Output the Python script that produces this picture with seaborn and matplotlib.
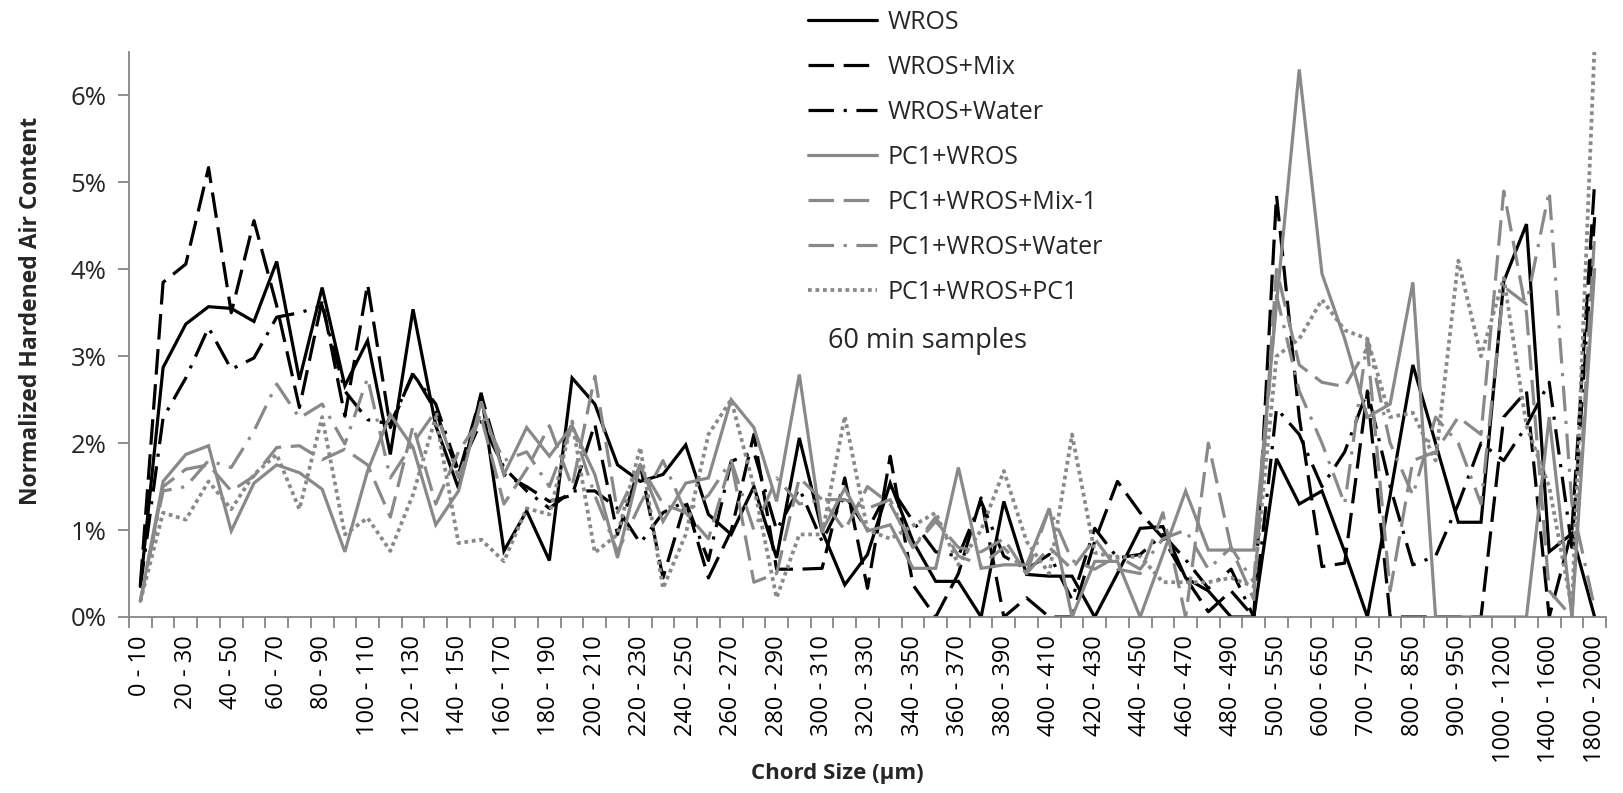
import numpy as np
import pandas as pd
import matplotlib
matplotlib.use("Agg")
import matplotlib.pyplot as plt
import seaborn as sns
from matplotlib.ticker import PercentFormatter

# ---------------- data ----------------
categories = [
    "0 - 10", "10 - 20", "20 - 30", "30 - 40", "40 - 50", "50 - 60", "60 - 70", "70 - 80",
    "80 - 90", "90 - 100", "100 - 110", "110 - 120", "120 - 130", "130 - 140", "140 - 150",
    "150 - 160", "160 - 170", "170 - 180", "180 - 190", "190 - 200", "200 - 210", "210 - 220",
    "220 - 230", "230 - 240", "240 - 250", "250 - 260", "260 - 270", "270 - 280", "280 - 290",
    "290 - 300", "300 - 310", "310 - 320", "320 - 330", "330 - 340", "340 - 350", "350 - 360",
    "360 - 370", "370 - 380", "380 - 390", "390 - 400", "400 - 410", "410 - 420", "420 - 430",
    "430 - 440", "440 - 450", "450 - 460", "460 - 470", "470 - 480", "480 - 490", "490 - 500",
    "500 - 550", "550 - 600", "600 - 650", "650 - 700", "700 - 750", "750 - 800", "800 - 850",
    "850 - 900", "900 - 950", "950 - 1000", "1000 - 1200", "1200 - 1400", "1400 - 1600",
    "1600 - 1800", "1800 - 2000",
]

series_names = ["WROS", "WROS+Mix", "WROS+Water", "PC1+WROS",
                "PC1+WROS+Mix-1", "PC1+WROS+Water", "PC1+WROS+PC1"]

wros = [0.35, 2.87, 3.37, 3.57, 3.55, 3.40, 4.09, 2.73, 3.79, 2.66,
        3.18, 1.87, 3.54, 2.20, 1.48, 2.58, 0.76, 1.22, 0.65, 2.75,
        2.45, 1.75, 1.56, 1.64, 1.98, 1.18, 0.95, 1.50, 0.68, 2.06,
        0.99, 0.37, 0.72, 1.54, 0.87, 0.41, 0.41, 0.00, 1.33, 0.49,
        0.47, 0.47, 0.00, 0.50, 1.02, 1.04, 0.45, 0.30, 0.00, 0.00,
        1.82, 1.30, 1.45, 0.75, 0.00, 1.40, 2.90, 2.00, 1.09, 1.09,
        3.86, 4.52, 0.75, 0.96, 0.00]

wros_mix = [0.37, 3.85, 4.06, 5.17, 3.50, 4.56, 3.58, 2.41, 3.64, 2.31,
            3.83, 2.18, 2.81, 2.37, 1.64, 2.56, 1.64, 1.50, 1.33, 1.40,
            2.22, 0.95, 1.75, 0.45, 1.33, 0.45, 0.99, 2.10, 0.55, 0.55,
            0.56, 1.60, 0.33, 1.85, 0.37, 0.00, 0.50, 1.37, 0.00, 0.22,
            0.00, 0.00, 0.87, 1.56, 1.20, 0.91, 0.45, 0.06, 0.30, 0.00,
            4.85, 2.30, 0.58, 0.62, 2.60, 0.00, 0.00, 0.00, 0.00, 0.00,
            2.30, 2.60, 0.00, 1.00, 5.00]

wros_water = [0.35, 2.29, 2.75, 3.33, 2.85, 2.98, 3.45, 3.50, 3.58, 2.60,
              2.27, 2.22, 2.79, 2.45, 1.68, 2.25, 1.72, 1.45, 1.25, 1.45,
              1.45, 1.25, 0.85, 1.20, 1.33, 0.65, 1.79, 1.90, 1.00, 1.48,
              0.87, 1.40, 1.00, 1.50, 1.10, 0.75, 0.70, 1.33, 0.70, 0.55,
              0.72, 0.20, 1.02, 0.68, 0.72, 0.95, 0.66, 0.33, 0.55, 0.00,
              2.40, 2.10, 1.50, 1.90, 2.60, 1.50, 0.60, 0.70, 1.30, 2.00,
              1.80, 2.20, 2.70, 0.80, 4.60]

pc1_wros = [0.18, 1.56, 1.87, 1.97, 0.99, 1.54, 1.75, 1.66, 1.47, 0.75,
            1.68, 2.33, 1.95, 1.06, 1.45, 2.48, 1.64, 2.18, 1.85, 2.20,
            1.64, 0.68, 1.75, 1.10, 1.54, 1.60, 2.50, 2.18, 1.33, 2.79,
            0.99, 1.48, 0.99, 1.06, 0.56, 0.56, 1.72, 0.56, 0.60, 0.60,
            1.25, 0.00, 0.64, 0.64, 0.00, 0.72, 1.45, 0.77, 0.77, 0.77,
            3.60, 6.30, 3.95, 3.20, 2.30, 2.45, 3.85, 0.00, 0.00, 0.00,
            0.00, 0.00, 2.30, 0.00, 4.00]

pc1_mix1 = [0.18, 1.50, 1.70, 1.75, 1.45, 1.62, 1.95, 1.97, 1.81, 1.93,
            1.75, 1.15, 2.20, 1.30, 1.90, 2.30, 1.30, 1.70, 2.20, 1.50,
            2.77, 1.20, 1.75, 1.30, 1.20, 0.90, 1.80, 0.40, 0.50, 1.60,
            1.35, 1.00, 1.50, 1.30, 0.80, 1.10, 0.80, 0.75, 0.90, 0.50,
            0.80, 0.55, 0.90, 0.55, 0.50, 1.20, 0.00, 2.00, 0.80, 0.20,
            4.00, 2.90, 2.70, 2.65, 3.10, 0.30, 1.80, 1.90, 2.30, 2.10,
            4.90, 3.50, 0.30, 0.00, 4.40]

pc1_water = [0.18, 1.45, 1.50, 1.80, 1.72, 2.14, 2.68, 2.29, 2.45, 1.99,
             2.75, 1.60, 2.00, 2.37, 1.60, 2.35, 1.80, 1.90, 1.50, 2.20,
             1.40, 0.75, 1.30, 1.80, 1.20, 1.40, 1.80, 1.00, 1.60, 1.30,
             1.35, 1.35, 1.25, 1.35, 0.80, 1.15, 0.70, 0.60, 0.80, 0.50,
             1.25, 0.65, 0.55, 0.70, 0.55, 0.90, 1.00, 0.55, 0.80, 0.40,
             3.70, 2.60, 2.00, 1.30, 3.20, 2.00, 1.40, 2.30, 2.00, 1.30,
             3.80, 3.60, 4.90, 1.30, 0.10]

pc1_pc1 = [0.18, 1.20, 1.12, 1.56, 1.24, 1.64, 1.87, 1.24, 2.30, 0.95,
           1.14, 0.76, 1.41, 2.30, 0.85, 0.89, 0.64, 1.25, 1.18, 2.25,
           0.74, 0.95, 1.95, 0.33, 0.95, 2.10, 2.50, 1.50, 0.22, 0.95,
           0.95, 2.31, 1.00, 0.90, 1.05, 1.20, 0.60, 1.00, 1.68, 0.87,
           0.50, 2.10, 0.74, 0.68, 0.70, 0.40, 0.40, 0.40, 0.45, 0.35,
           3.00, 3.20, 3.65, 3.30, 3.20, 2.30, 2.35, 1.80, 4.10, 3.00,
           3.90, 2.20, 1.50, 0.10, 6.60]

y_ticks = [0, 1, 2, 3, 4, 5, 6]

# ---------------- styles ----------------
BLACK = "#000000"
GRAY = "#898989"
palette = {"WROS": BLACK, "WROS+Mix": BLACK, "WROS+Water": BLACK,
           "PC1+WROS": GRAY, "PC1+WROS+Mix-1": GRAY, "PC1+WROS+Water": GRAY,
           "PC1+WROS+PC1": GRAY}
dashes = {"WROS": "", "WROS+Mix": (8, 3), "WROS+Water": (8, 3, 1, 3),
          "PC1+WROS": "", "PC1+WROS+Mix-1": (8, 3), "PC1+WROS+Water": (8, 3, 1, 3),
          "PC1+WROS+PC1": (1, 1)}

values = [wros, wros_mix, wros_water, pc1_wros, pc1_mix1, pc1_water, pc1_pc1]
frames = []
for name, vals in zip(series_names, values):
    frames.append(pd.DataFrame({"idx": np.arange(len(categories)),
                                "val": vals, "series": name}))
df = pd.concat(frames, ignore_index=True)

sns.set_theme(style="ticks")
plt.rcParams["font.family"] = ["Open Sans", "DejaVu Sans"]

W, H = 1624, 793
fig = plt.figure(figsize=(W / 100, H / 100), dpi=100)
L, R, T, B = 129, 1606, 52, 617
ax = fig.add_axes([L / W, 1 - B / H, (R - L) / W, (B - T) / H])

sns.lineplot(data=df, x="idx", y="val", hue="series", style="series",
             hue_order=series_names, style_order=series_names,
             palette=palette, dashes=dashes, linewidth=2.3,
             estimator=None, sort=False, legend=False, ax=ax)
for ln in ax.get_lines():
    ln.set_solid_joinstyle("miter")
    ln.set_dash_capstyle("butt")
ax.get_lines()[6].set_linewidth(2.7)

ax.set_xlim(-0.5, len(categories) - 0.5)
ax.set_ylim(0, 6.5)
ax.set_xlabel("")
ax.set_ylabel("")

ax.set_xticks(np.arange(0, len(categories), 2))
ax.set_xticklabels(categories[::2], rotation=90, fontsize=17)
ax.set_xticks(np.arange(-0.5, len(categories), 1), minor=True)
ax.tick_params(axis="x", which="major", length=0, pad=13, colors="black")
ax.tick_params(axis="x", which="minor", length=8, width=1.3, color="#868686")

ax.set_yticks(y_ticks)
ax.yaxis.set_major_formatter(PercentFormatter(100, decimals=0))
ax.tick_params(axis="y", which="major", length=8, width=1.3, color="#868686",
               labelsize=18.5, pad=8)

for side in ["top", "right"]:
    ax.spines[side].set_visible(False)
for side in ["left", "bottom"]:
    ax.spines[side].set_color("#868686")
    ax.spines[side].set_linewidth(1.3)

handles = ax.get_lines()[:len(series_names)]
leg = ax.legend(handles, series_names, loc="upper left",
                bbox_to_anchor=(808 / W, 1 - 10 / H), bbox_transform=fig.transFigure,
                frameon=False, fontsize=18, handlelength=2.75, handletextpad=0.45,
                labelspacing=0.8, borderpad=0, borderaxespad=0)

fig.text(828 / W, 1 - 341 / H, "60 min samples", fontsize=19.5, va="center", ha="left")
fig.text(837 / W, 1 - 773 / H, "Chord Size (μm)", fontsize=16, fontweight="bold",
         ha="center", va="center")
fig.text(31 / W, 1 - 311 / H, "Normalized Hardened Air Content", fontsize=16.5,
         fontweight="bold", rotation=90, ha="center", va="center")

fig.savefig("out.png", dpi=100)
